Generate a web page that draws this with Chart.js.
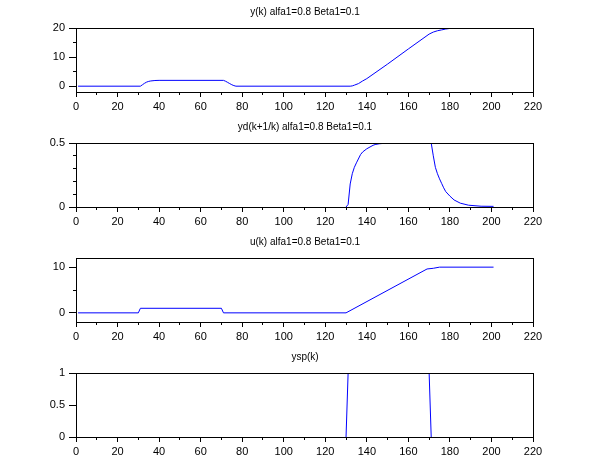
<!DOCTYPE html>
<html>
<head>
  <meta charset="UTF-8" />
  <title>y(k) alfa1=0.8 Beta1=0.1</title>
  <style>
    * { box-sizing: border-box; margin: 0; padding: 0; }
    html, body { width: 610px; height: 460px; background: #fff; overflow: hidden; }
    .panel { position: absolute; left: 0; width: 610px; height: 115px; }
    canvas { display: block; }
  </style>
  <script src="https://cdn.jsdelivr.net/npm/chart.js@4/dist/chart.umd.min.js"></script>
</head>
<body>
  <div class="panel" style="top:0px"><canvas id="c1" width="610" height="115"></canvas></div>
  <div class="panel" style="top:115px"><canvas id="c2" width="610" height="115"></canvas></div>
  <div class="panel" style="top:230px"><canvas id="c3" width="610" height="115"></canvas></div>
  <div class="panel" style="top:345px"><canvas id="c4" width="610" height="115"></canvas></div>

  <script>
    // shared k axis
    const xTicks = [0, 20, 40, 60, 80, 100, 120, 140, 160, 180, 200, 220];
    const xMinor = [10, 30, 50, 70, 90, 110, 130, 150, 170, 190, 210];

    // y(k)
    const yK   = [1, 31, 32, 33, 34, 35, 36, 38, 40, 71, 72, 73, 74, 75, 76, 77, 132, 133, 134, 136, 138, 140, 150, 160, 170, 172, 174, 176, 178, 180, 182, 201];
    const yVal = [0, 0, 0.5, 1.0, 1.4, 1.65, 1.8, 1.95, 2.0, 2.0, 1.7, 1.3, 0.9, 0.5, 0.2, 0, 0, 0.1, 0.35, 0.9, 1.8, 2.6, 7.6, 12.8, 17.9, 18.6, 19.05, 19.35, 19.65, 19.85, 20, 20];

    // yd(k+1/k)  (only the part that shows above the lower frame)
    const ydK   = [130, 131, 132, 133, 134, 135, 137, 138, 140, 143, 144, 146, 150, 171, 172, 173, 174, 175, 176, 177, 178, 180, 182, 185, 189, 195, 201];
    const ydVal = [0, 0.02, 0.18, 0.26, 0.31, 0.345, 0.41, 0.43, 0.455, 0.482, 0.488, 0.494, 0.5, 0.5, 0.4, 0.31, 0.26, 0.22, 0.185, 0.15, 0.12, 0.085, 0.055, 0.03, 0.014, 0.006, 0.005];

    // u(k)
    const uK   = [1, 30, 31, 70, 71, 130, 169, 172, 175, 201];
    const uVal = [0, 0, 1, 1, 0, 0, 9.6, 9.75, 10, 10];

    // ysp(k)  (the flat parts sit on the frame)
    const spK   = [130, 131, 170, 171];
    const spVal = [0, 1, 1, 0];

    const FAMILY = "'Liberation Sans', Arial, sans-serif";
    const tickFont = { family: FAMILY, size: 11 };

    // black frame drawn over the data, like the scilab axes box
    const boxPlugin = {
      id: 'box',
      afterDatasetsDraw(chart) {
        const a = chart.chartArea, c = chart.ctx;
        c.save();
        c.strokeStyle = '#000';
        c.lineWidth = 1;
        c.strokeRect(a.left + 0.5, a.top + 0.5, a.right - a.left, a.bottom - a.top);
        c.restore();
      }
    };

    function panel(id, title, ks, vals, yMin, yMax, yMajor, yMinor) {
      const pts = ks.map((k, i) => ({ x: k, y: vals[i] }));
      return new Chart(document.getElementById(id), {
        type: 'line',
        data: {
          datasets: [{
            data: pts,
            borderColor: '#0000ff',
            borderWidth: 1,
            pointRadius: 0,
            tension: 0,
            fill: false,
            clip: { left: 0, top: -0.5, right: 0, bottom: 0 }
          }]
        },
        options: {
          responsive: false,
          animation: false,
          layout: { padding: 0 },
          plugins: {
            legend: { display: false },
            tooltip: { enabled: false },
            title: {
              display: true,
              text: title,
              color: '#000',
              font: { family: FAMILY, size: 10, weight: 'normal' },
              padding: { top: 6, bottom: 10 }
            }
          },
          scales: {
            x: {
              type: 'linear', position: 'bottom', weight: 1, min: 0, max: 220,
              afterBuildTicks: s => { s.ticks = xTicks.map(v => ({ value: v })); },
              afterFit: s => { s.height = 23; },
              grid: { drawOnChartArea: false, tickLength: 5, tickColor: '#000' },
              border: { display: false },
              ticks: { color: '#000', font: tickFont, padding: 3, autoSkip: false, maxRotation: 0, callback: v => String(v) }
            },
            xm: {
              type: 'linear', position: 'bottom', weight: 0, min: 0, max: 220,
              afterBuildTicks: s => { s.ticks = xMinor.map(v => ({ value: v })); },
              afterFit: s => { s.height = 0; },
              grid: { drawOnChartArea: false, tickLength: 3, tickColor: '#000' },
              border: { display: false },
              ticks: { display: false, autoSkip: false }
            },
            y: {
              type: 'linear', position: 'left', weight: 1, min: yMin, max: yMax,
              afterBuildTicks: s => { s.ticks = yMajor.map(v => ({ value: v })); },
              afterFit: s => { s.width = 76; },
              grid: { drawOnChartArea: false, tickLength: 7, tickColor: '#000' },
              border: { display: false },
              ticks: { color: '#000', font: tickFont, padding: 4, autoSkip: false, callback: v => String(v) }
            },
            ym: {
              type: 'linear', position: 'left', weight: 0, min: yMin, max: yMax,
              afterBuildTicks: s => { s.ticks = yMinor.map(v => ({ value: v })); },
              afterFit: s => { s.width = 0; },
              grid: { drawOnChartArea: false, tickLength: 3, tickColor: '#000' },
              border: { display: false },
              ticks: { display: false, autoSkip: false }
            },
            // empty right margin so the title centres over the box
            yr: {
              type: 'linear', position: 'right', min: 0, max: 1,
              afterFit: s => { s.width = 77; },
              grid: { display: false },
              border: { display: false },
              ticks: { display: false }
            }
          }
        },
        plugins: [boxPlugin]
      });
    }

    panel('c1', 'y(k) alfa1=0.8 Beta1=0.1', yK, yVal, -2, 20, [0, 10, 20], [5, 15]);
    panel('c2', 'yd(k+1/k) alfa1=0.8 Beta1=0.1', ydK, ydVal, 0, 0.5, [0, 0.5], [0.1, 0.2, 0.3, 0.4]);
    panel('c3', 'u(k) alfa1=0.8 Beta1=0.1', uK, uVal, -2, 12, [0, 10], [5]);
    panel('c4', 'ysp(k)', spK, spVal, 0, 1, [0, 0.5, 1], []);
  </script>
</body>
</html>
